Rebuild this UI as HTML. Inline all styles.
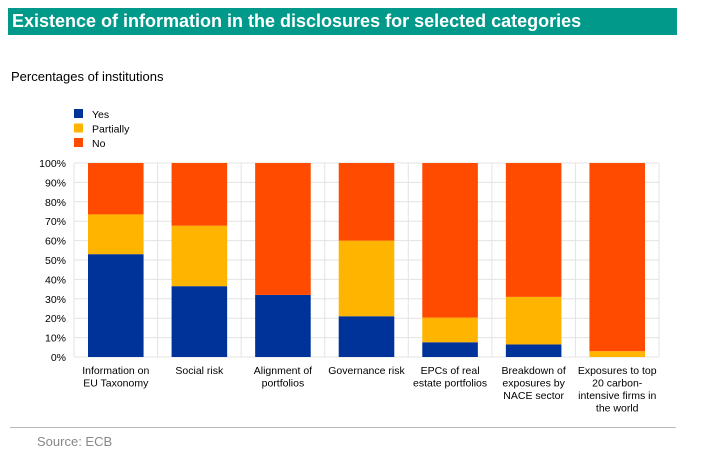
<!DOCTYPE html>
<html><head><meta charset="utf-8"><style>
body{margin:0;width:706px;height:468px;background:#fff;font-family:"Liberation Sans",sans-serif;position:relative;overflow:hidden}
.t{position:absolute;left:8px;top:8px;width:669px;height:27px;background:#00998a;color:#fff;font-weight:bold;font-size:18px;line-height:27px;padding-left:4px;box-sizing:border-box}
.s{position:absolute;left:11px;top:69px;font-size:13px;color:#000}
.src{position:absolute;left:37px;top:434px;font-size:13px;color:#888}
.hr{position:absolute;left:10px;top:427px;width:666px;height:1px;background:#bbb}
</style></head><body>
<div class="t">Existence of information in the disclosures for selected categories</div>
<div class="s">Percentages of institutions</div>
<svg id="c" width="706" height="468" style="position:absolute;left:0;top:0"></svg>
<div class="hr"></div>
<div class="src">Source: ECB</div>
<script>
const categories=[["Information on","EU Taxonomy"],["Social risk"],["Alignment of","portfolios"],["Governance risk"],["EPCs of real","estate portfolios"],["Breakdown of","exposures by","NACE sector"],["Exposures to top","20 carbon-","intensive firms in","the world"]];
const yesVals=[53,36.5,32,21,7.6,6.5,0];
const partialVals=[20.5,31.2,0,39,12.7,24.5,3];
const seriesNames=["Yes","Partially","No"];
const yTicks=[0,10,20,30,40,50,60,70,80,90,100];
const colors=["#003399","#ffb400","#ff4b00"];
const svg=document.getElementById('c');const NS='http://www.w3.org/2000/svg';
const L=74,R=659,T=163,B=357;const cw=(R-L)/categories.length;
const y=v=>B-(v/100)*(B-T);const x=i=>L+i*cw;
function mk(tag,a,txt){const e=document.createElementNS(NS,tag);for(const k in a)e.setAttribute(k,a[k]);if(txt!=null)e.textContent=txt;svg.appendChild(e);return e;}
yTicks.forEach(t=>{const g=mk('line',{x1:L,x2:R,y1:y(t),y2:y(t),stroke:'#e3e3e3','stroke-width':1});


const l=mk('text',{x:L-8,y:y(t)+4,'text-anchor':'end','font-size':10.5,fill:'#000'},t+'%');

});
for(let i=0;i<=categories.length;i++){const v=mk('line',{x1:x(i),x2:x(i),y1:T,y2:B,stroke:'#e3e3e3','stroke-width':1});

}
categories.forEach((c,i)=>{const bx=x(i)+14,bw=cw-28;
const segs=[[0,yesVals[i]],[yesVals[i],yesVals[i]+partialVals[i]],[yesVals[i]+partialVals[i],100]];
segs.forEach((s,k)=>{if(s[1]-s[0]<=0)return;const r=mk('rect',{x:bx,y:y(s[1]),width:bw,height:y(s[0])-y(s[1]),fill:colors[k]});

});
c.forEach((ln,j)=>{const t=mk('text',{x:x(i)+cw/2,y:374+j*12.5,'text-anchor':'middle','font-size':10.5,fill:'#000'},ln);

});});
seriesNames.forEach((n,k)=>{const r=mk('rect',{x:74,y:109+k*14.5,width:9,height:9,fill:colors[k]});


const t=mk('text',{x:92,y:118+k*14.5,'font-size':10.5,fill:'#000'},n);

});
</script>
</body></html>
